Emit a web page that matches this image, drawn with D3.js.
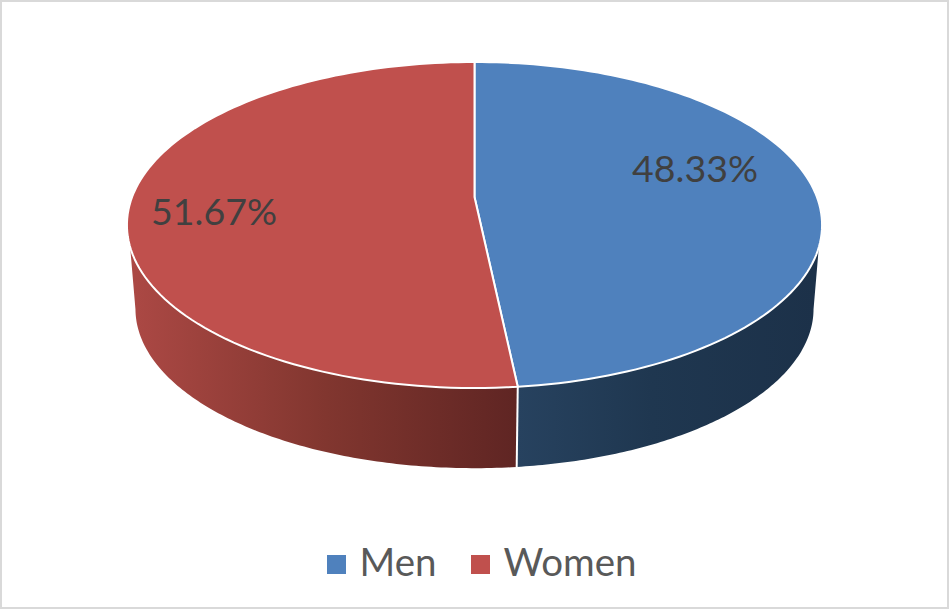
<!DOCTYPE html>
<html><head><meta charset="utf-8">
<style>html,body{margin:0;padding:0;background:#fff}svg{display:block}</style>
<script src="https://cdn.jsdelivr.net/npm/d3@7"></script>
</head><body>
<svg id="c" width="949" height="609"></svg>
<script>
const categories = ["Men", "Women"];
const values = [48.33, 51.67];
const valueLabels = ["48.33%", "51.67%"];
const topColors = ["#4f81bd", "#c0504d"];
const wallStops = [
  [["0","#27425f"],["0.45","#1f3750"],["1","#1c3149"]],
  [["0","#ab4844"],["0.5","#81362f"],["1","#5f2523"]]
];

const W = 949, H = 609;
const svg = d3.select("#c");
svg.append("rect").attr("x",1).attr("y",1).attr("width",W-2).attr("height",H-2)
   .attr("fill","#fff").attr("stroke","#d9d9d9").attr("stroke-width",2);

// perspective projection of the pie disc
const persp = 0.1718;
function project(plane, ang){
  const u = Math.sin(ang), v = -Math.cos(ang), d = 1 - persp*v;
  return [plane.cx + plane.c*u/d, plane.cy + plane.a*v/d];
}
const topPlane = {cx:474.5, cy:197, c:342.4, a:158.2};
const botPlane = {cx:474.5, cy:281.5, c:334, a:154.6};

const arcs = d3.pie().sort(null).value(d=>d)(values);
const line = d3.line();
const toRad = d => d*Math.PI/180;
const topLimit = toRad(107.5), botLimit = toRad(100);
const steps = (from,to) => d3.range(0,121).map(i=>from+(to-from)*i/120);

const defs = svg.append("defs");
wallStops.forEach((stops,i)=>{
  const g = defs.append("linearGradient").attr("id","wall"+i)
    .attr("gradientUnits","userSpaceOnUse").attr("y1",0).attr("y2",0)
    .attr("x1", i===0?518:135).attr("x2", i===0?815:518);
  stops.forEach(s=>g.append("stop").attr("offset",s[0]).attr("stop-color",s[1]));
});

// walls
arcs.forEach((a,i)=>{
  const upper = i===0 ? steps(topLimit,a.endAngle) : steps(a.startAngle,2*Math.PI-topLimit);
  const lower = i===0 ? steps(botLimit,a.endAngle) : steps(a.startAngle,2*Math.PI-botLimit);
  const pts = upper.map(t=>project(topPlane,t)).concat(lower.reverse().map(t=>project(botPlane,t)));
  svg.append("path").attr("d",line(pts)+"Z").attr("fill","url(#wall"+i+")");
});
// split edge on the wall
const se = arcs[0].endAngle;
svg.append("path").attr("d",line([project(topPlane,se),project(botPlane,se)]))
   .attr("stroke","#fff").attr("stroke-width",2).attr("fill","none");

// top faces
arcs.forEach((a,i)=>{
  const rim = steps(a.startAngle,a.endAngle).map(t=>project(topPlane,t));
  const centre = [topPlane.cx, topPlane.cy];
  svg.append("path").attr("d",line([centre].concat(rim))+"Z")
     .attr("fill",topColors[i]).attr("stroke","#fff").attr("stroke-width",2).attr("stroke-linejoin","round");
});

// value labels
const font = "Lato, 'Open Sans', sans-serif";
const labelPos = [[695,182],[214,225]];
valueLabels.forEach((t,i)=>{
  svg.append("text").attr("x",labelPos[i][0]).attr("y",labelPos[i][1])
     .attr("text-anchor","middle").attr("font-family",font).attr("font-size",37.5)
     .attr("fill","#404040").text(t);
});

// legend
const legendX = [327,471], legendTextX = [359.5,503.5];
categories.forEach((c,i)=>{
  svg.append("rect").attr("x",legendX[i]).attr("y",555).attr("width",19).attr("height",19).attr("fill",topColors[i]);
  svg.append("text").attr("x",legendTextX[i]).attr("y",576).attr("font-family",font).attr("font-size",38.5)
     .attr("fill","#595959").text(c);
});
</script>
</body></html>
